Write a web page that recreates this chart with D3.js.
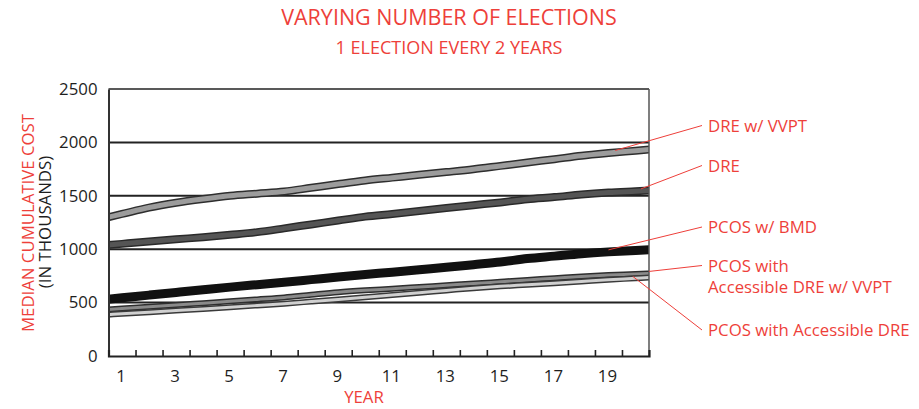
<!DOCTYPE html>
<html>
<head>
<meta charset="utf-8">
<script src="https://cdn.jsdelivr.net/npm/d3@7/dist/d3.min.js"></script>
<style>
  body { margin: 0; background: #fff; }
  svg { display: block; font-family: "Open Sans", "Noto Sans", sans-serif; }
</style>
</head>
<body>
<svg id="chart" width="919" height="409"></svg>
<script>
// ---- data ----
const years = d3.range(1, 21);
const seriesNames = ["DRE w/ VVPT", "DRE", "PCOS w/ BMD", "PCOS with Accessible DRE w/ VVPT", "PCOS with Accessible DRE"];
const dreVvpt   = [1330,1390,1435,1470,1500,1520,1540,1575,1610,1643,1670,1697,1722,1748,1780,1812,1843,1875,1900,1922];
const dre       = [1050,1072,1093,1112,1135,1160,1195,1232,1268,1305,1330,1357,1385,1412,1438,1468,1488,1512,1530,1543];
const pcosBmd   = [545,570,595,620,645,668,690,715,740,763,785,808,830,855,880,912,935,958,975,988];
const pcosAccVvpt = [445,462,478,495,512,530,548,573,597,615,630,646,662,678,695,712,728,745,758,768];
const pcosAcc   = [395,410,425,440,456,473,490,510,530,550,572,593,614,635,652,667,682,698,714,728];
const yTicks = [0, 500, 1000, 1500, 2000, 2500];
const xLabelYears = [1,3,5,7,9,11,13,15,17,19];
const labelLines = [["DRE w/ VVPT"], ["DRE"], ["PCOS w/ BMD"], ["PCOS with", "Accessible DRE w/ VVPT"], ["PCOS with Accessible DRE"]];
const anchorYears = [19.25, 20.2, 19.0, 20.5, 19.9];

const seriesValues = [dreVvpt, dre, pcosBmd, pcosAccVvpt, pcosAcc];
const styles = [
  {w: 8, fill: "#9c9c9c", edge: "#2e2e2e"},
  {w: 8, fill: "#555555", edge: "#2a2a2a"},
  {w: 9, fill: "#111111", edge: "#111111"},
  {w: 6, fill: "#8a8a8a", edge: "#2e2e2e"},
  {w: 6, fill: "#d0d0d0", edge: "#3a3a3a"}
];
const labelPos = [{x: 708, y: 131.5}, {x: 708, y: 171.5}, {x: 708, y: 233}, {x: 708, y: 271.5}, {x: 708, y: 336}];
const red = "#ee3f3a";
const fs = "16.8px";

// ---- layout ----
const svg = d3.select("#chart");
const L = 108.5, R = 649, T = 89, B = 356;
const x = d3.scaleLinear().domain([0.5, 20.5]).range([L, R]);
const y = d3.scaleLinear().domain([0, 2500]).range([B, T]);

// value lookup with linear extension past the ends
function valueAt(vals, yr) {
  if (yr <= 1) return vals[0] - (vals[1] - vals[0]) * (1 - yr);
  if (yr >= 20) return vals[19] + (vals[19] - vals[18]) * (yr - 20);
  const i = Math.floor(yr) - 1, f = yr - Math.floor(yr);
  return vals[i] + (vals[i + 1] - vals[i]) * f;
}

// titles
svg.append("text").attr("x", 449).attr("y", 25).attr("text-anchor", "middle")
  .attr("fill", red).style("font-size", "21.5px").text("VARYING NUMBER OF ELECTIONS");
svg.append("text").attr("x", 449).attr("y", 54).attr("text-anchor", "middle")
  .attr("fill", red).style("font-size", "18px").text("1 ELECTION EVERY 2 YEARS");

// gridlines
svg.append("g").selectAll("line").data(yTicks.filter(d => d > 0 && d < 2500)).join("line")
  .attr("x1", L).attr("x2", R).attr("y1", d => y(d)).attr("y2", d => y(d))
  .attr("stroke", "#222").attr("stroke-width", 2);

// clip
svg.append("defs").append("clipPath").attr("id", "plotclip")
  .append("rect").attr("x", L).attr("y", T).attr("width", R - L).attr("height", B - T);

const line = d3.line().x(d => x(d[0])).y(d => y(d[1])).curve(d3.curveMonotoneX);
const gLines = svg.append("g").attr("clip-path", "url(#plotclip)");
seriesValues.forEach((vals, i) => {
  const pts = [[0.4, valueAt(vals, 0.4)]].concat(years.map((yr, j) => [yr, vals[j]])).concat([[20.6, valueAt(vals, 20.6)]]);
  const st = styles[i];
  gLines.append("path").attr("d", line(pts)).attr("fill", "none")
    .attr("stroke", st.edge).attr("stroke-width", st.w);
  gLines.append("path").attr("d", line(pts)).attr("fill", "none")
    .attr("stroke", st.fill).attr("stroke-width", st.w - 3);
});

// frame
svg.append("line").attr("x1", L).attr("x2", R).attr("y1", T).attr("y2", T).attr("stroke", "#222").attr("stroke-width", 1.5);
svg.append("line").attr("x1", R).attr("x2", R).attr("y1", T).attr("y2", B).attr("stroke", "#555").attr("stroke-width", 1.5);

// y axis
const yAxis = svg.append("g").attr("transform", `translate(${L},0)`)
  .call(d3.axisLeft(y).tickValues(yTicks).tickSize(0).tickPadding(11).tickFormat(d3.format("d")));
yAxis.select(".domain").attr("stroke", "#333").attr("stroke-width", 2);
yAxis.selectAll("text").attr("fill", "#1e1e1e").style("font-size", fs).style("font-family", "'Open Sans', sans-serif");

// x axis: small inward ticks between years
const xAxis = svg.append("g").attr("transform", `translate(0,${B})`)
  .call(d3.axisBottom(x).tickValues(d3.range(1.5, 20, 1)).tickSize(-6).tickFormat(""));
xAxis.select(".domain").attr("stroke", "#222").attr("stroke-width", 2.2);
xAxis.selectAll(".tick line").attr("stroke", "#222").attr("stroke-width", 1.6);

svg.append("g").selectAll("text").data(xLabelYears).join("text")
  .attr("x", d => x(d) - 1).attr("y", 382).attr("text-anchor", "middle")
  .attr("fill", "#1e1e1e").style("font-size", fs).text(d => d);

svg.append("text").attr("x", 364).attr("y", 403).attr("text-anchor", "middle")
  .attr("fill", red).style("font-size", fs).text("YEAR");

// y titles
svg.append("text").attr("transform", "translate(34,223) rotate(-90)").attr("text-anchor", "middle")
  .attr("fill", red).style("font-size", fs).text("MEDIAN CUMULATIVE COST");
svg.append("text").attr("transform", "translate(51,222) rotate(-90)").attr("text-anchor", "middle")
  .attr("fill", "#1e1e1e").style("font-size", fs).text("(IN THOUSANDS)");

// leaders + labels
seriesValues.forEach((vals, i) => {
  const yr = anchorYears[i];
  const ax = x(yr), ay = y(valueAt(vals, yr)) - 2;
  const lp = labelPos[i];
  svg.append("line").attr("x1", ax).attr("y1", ay).attr("x2", lp.x - 6).attr("y2", lp.y - 6)
    .attr("stroke", red).attr("stroke-width", 1);
  const t = svg.append("text").attr("x", lp.x).attr("y", lp.y).attr("fill", red).style("font-size", fs);
  labelLines[i].forEach((s, k) => t.append("tspan").attr("x", lp.x).attr("dy", k === 0 ? 0 : 21).text(s));
});
</script>
</body>
</html>
